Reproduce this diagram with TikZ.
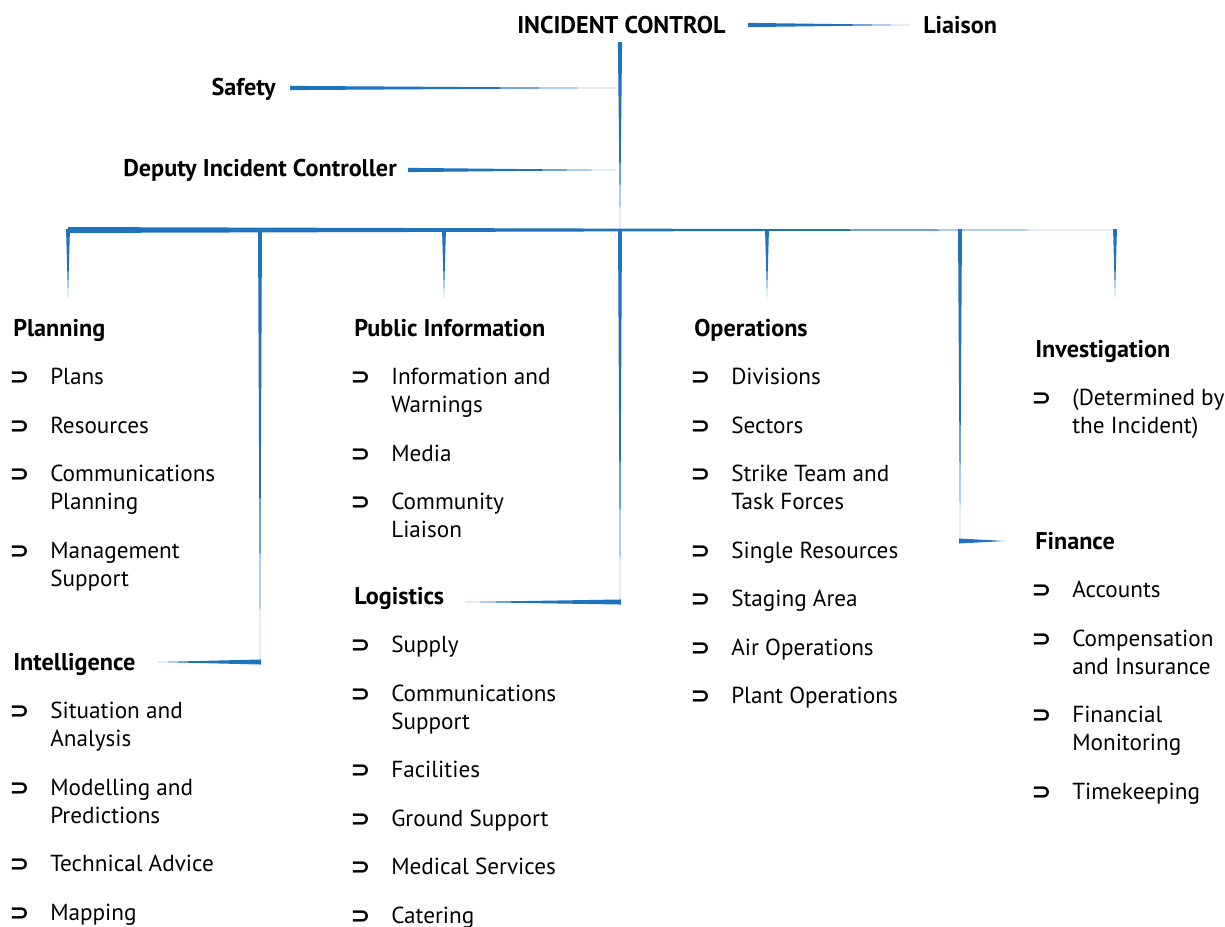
\documentclass[tikz,border=0pt]{standalone}
\usepackage{fontspec}
\usepackage{graphicx}
\setmainfont{PT Sans}
\newfontfamily\bulletfont{DejaVu Sans}
\usetikzlibrary{positioning, calc}

\definecolor{wireblue}{RGB}{31,115,189}
\newcommand\chartfont{\fontsize{16.5}{19.9}\selectfont}
\newcommand\headfont{\fontsize{17.2}{19.9}\selectfont\bfseries}

\tikzset{
  wire/.style = {fill = wireblue, draw = none},
  taper/.style = {to path = {($(\tikztostart)!#1!90:(\tikztotarget)$)
    -- ($(\tikztostart)!#1!-90:(\tikztotarget)$) -- (\tikztotarget) -- cycle}},
  head/.style = {font = \headfont, inner sep = 0pt,
    execute at begin node = \strut},
  bulletmark/.style = {font = \bulletfont\bfseries\fontsize{16}{16}\selectfont,
    inner sep = 0pt, text height = 13.93pt, text depth = 0pt,
    anchor = north east, xshift = -14.5pt},
  entry/.style = {font = \chartfont, align = left, inner sep = 0pt,
    execute at begin node = \strut, execute at end node = \strut,
    label = {[bulletmark]north west:\scalebox{1.05}[1]{⊃}}}
}

\begin{document}
\begin{tikzpicture}[x = 0.025cm, y = -0.025cm, node distance = 14.2pt and 0pt]
\useasboundingbox (0,0) rectangle (1225,927);

% command level
\node [head, anchor = base west] (ic) at (517,33) {INCIDENT CONTROL};
\node [head, anchor = base west] (liaison) at (923,33) {Liaison};
\node [head, anchor = base east] (safety) at (276,95) {Safety};
\node [head, anchor = base east] (deputy) at (397,176) {Deputy Incident Controller};

\coordinate (ic-r) at (748,25);
\coordinate (li-l) at (910,25);
\coordinate (tr-top) at (620,42);
\coordinate (tr-bot) at (620,229);
\coordinate (sa-r) at (290,88);
\coordinate (sa-t) at (616,88);
\coordinate (de-r) at (408,170);
\coordinate (de-t) at (616,170);

\fill [wire] (ic-r) to [taper = 1.5pt] (li-l);
\fill [wire] (tr-top) to [taper = 1.5pt] (tr-bot);
\fill [wire] (sa-r) to [taper = 1.5pt] (sa-t);
\fill [wire] (de-r) to [taper = 1.5pt] (de-t);

% main bar and drops
\coordinate (bar-l) at (68,230);
\coordinate (bar-r) at (1116,230);
\fill [wire] (bar-l) to [taper = 2.1pt] (bar-r);

\coordinate (d1) at (68,229);    \coordinate (d1-e) at (68,297);
\coordinate (d2) at (260,229);   \coordinate (d2-e) at (260,664);
\coordinate (d3) at (444,229);   \coordinate (d3-e) at (444,297);
\coordinate (d4) at (620,229);   \coordinate (d4-e) at (620,604);
\coordinate (d5) at (767,229);   \coordinate (d5-e) at (767,297);
\coordinate (d6) at (960,229);   \coordinate (d6-e) at (960,543);
\coordinate (d7) at (1115,229);  \coordinate (d7-e) at (1115,297);

\fill [wire] (d1) to [taper = 1.4pt] (d1-e);
\fill [wire] (d2) to [taper = 1.4pt] (d2-e);
\fill [wire] (d3) to [taper = 1.4pt] (d3-e);
\fill [wire] (d4) to [taper = 1.4pt] (d4-e);
\fill [wire] (d5) to [taper = 1.4pt] (d5-e);
\fill [wire] (d6) to [taper = 1.4pt] (d6-e);
\fill [wire] (d7) to [taper = 1.4pt] (d7-e);

\coordinate (in-r) at (261,662);  \coordinate (in-l) at (158,662);
\coordinate (lo-r) at (621,602);  \coordinate (lo-l) at (465,602);
\coordinate (fi-l) at (959,541);  \coordinate (fi-r) at (1005,541);
\fill [wire] (in-r) to [taper = 1.8pt] (in-l);
\fill [wire] (lo-r) to [taper = 1.8pt] (lo-l);
\fill [wire] (fi-l) to [taper = 1.8pt] (fi-r);

% planning
\node [head, anchor = base west] (plan) at (13,336) {Planning};
\node [entry] (plan-1) [below right = 14.2pt and 26.3pt of plan.south west] {Plans};
\node [entry] (plan-2) [below right = of plan-1.south west] {Resources};
\node [entry] (plan-3) [below right = of plan-2.south west] {\strut Communications\\Planning};
\node [entry] (plan-4) [below right = of plan-3.south west] {\strut Management\\Support};

% intelligence
\node [head, anchor = base west] (intel) at (13,670) {Intelligence};
\node [entry] (intel-1) [below right = 14.2pt and 26.3pt of intel.south west] {\strut Situation and\\Analysis};
\node [entry] (intel-2) [below right = of intel-1.south west] {\strut Modelling and\\Predictions};
\node [entry] (intel-3) [below right = of intel-2.south west] {Technical Advice};
\node [entry] (intel-4) [below right = of intel-3.south west] {Mapping};

% public information
\node [head, anchor = base west] (pubinfo) at (354,336) {Public Information};
\node [entry] (pubinfo-1) [below right = 14.2pt and 26.3pt of pubinfo.south west] {\strut Information and\\Warnings};
\node [entry] (pubinfo-2) [below right = of pubinfo-1.south west] {Media};
\node [entry] (pubinfo-3) [below right = of pubinfo-2.south west] {\strut Community\\Liaison};

% logistics
\node [head, anchor = base west] (logist) at (354,604) {Logistics};
\node [entry] (logist-1) [below right = 14.2pt and 26.3pt of logist.south west] {Supply};
\node [entry] (logist-2) [below right = of logist-1.south west] {\strut Communications\\Support};
\node [entry] (logist-3) [below right = of logist-2.south west] {Facilities};
\node [entry] (logist-4) [below right = of logist-3.south west] {Ground Support};
\node [entry] (logist-5) [below right = of logist-4.south west] {Medical Services};
\node [entry] (logist-6) [below right = of logist-5.south west] {Catering};

% operations
\node [head, anchor = base west] (ops) at (694,336) {Operations};
\node [entry] (ops-1) [below right = 14.2pt and 26.3pt of ops.south west] {Divisions};
\node [entry] (ops-2) [below right = of ops-1.south west] {Sectors};
\node [entry] (ops-3) [below right = of ops-2.south west] {\strut Strike Team and\\Task Forces};
\node [entry] (ops-4) [below right = of ops-3.south west] {Single Resources};
\node [entry] (ops-5) [below right = of ops-4.south west] {Staging Area};
\node [entry] (ops-6) [below right = of ops-5.south west] {Air Operations};
\node [entry] (ops-7) [below right = of ops-6.south west] {Plant Operations};

% investigation
\node [head, anchor = base west] (invest) at (1035,357) {Investigation};
\node [entry] (invest-1) [below right = 14.2pt and 26.3pt of invest.south west] {\strut(Determined by\\the Incident)};

% finance
\node [head, anchor = base west] (fin) at (1035,549) {Finance};
\node [entry] (fin-1) [below right = 14.2pt and 26.3pt of fin.south west] {Accounts};
\node [entry] (fin-2) [below right = of fin-1.south west] {\strut Compensation\\and Insurance};
\node [entry] (fin-3) [below right = of fin-2.south west] {\strut Financial\\Monitoring};
\node [entry] (fin-4) [below right = of fin-3.south west] {Timekeeping};

\end{tikzpicture}
\end{document}
